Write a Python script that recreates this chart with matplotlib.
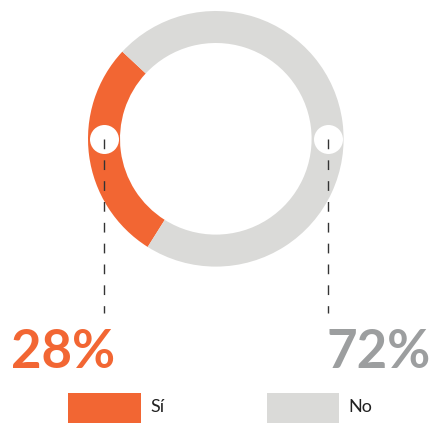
import matplotlib
matplotlib.use("Agg")
import matplotlib.pyplot as plt

# data
labels = ["Sí", "No"]
values = [28, 72]
colors = ["#F26633", "#DADAD8"]
text_colors = ["#F26633", "#9C9E9F"]

W, H = 433, 424
fig = plt.figure(figsize=(W / 100, H / 100), dpi=100)
ax = fig.add_axes([0, 0, 1, 1])

# donut geometry (pixel coords, y measured from bottom)
cx, cy = 215.8, H - 138.8
radius = 127.8
ring = 32

ax.pie(values, colors=colors, startangle=137, counterclock=True,
       center=(cx, cy), radius=radius,
       wedgeprops=dict(width=ring, linewidth=0))

mid_r = radius - ring / 2
marker_x = [cx - mid_r, cx + mid_r]
line_bottom = H - 313

for i, mx in enumerate(marker_x):
    ax.plot([mx, mx], [cy, line_bottom], color="#333333", lw=1,
            linestyle=(0, (7, 8)), zorder=3)
    # white dot, ~29 px across
    ax.scatter([mx], [cy], s=(29 * 0.72) ** 2, color="white", zorder=2, linewidths=0)

# percentage labels
ax.text(11, H - 352, f"{values[0]}%", color=text_colors[0], fontsize=38,
        family="Lato", fontweight="bold", ha="left", va="center")
ax.text(431, H - 352, f"{values[1]}%", color=text_colors[1], fontsize=38,
        family="Lato", fontweight="bold", ha="right", va="center")

# legend
leg_x = [68.3, 266.7]
for i, lx in enumerate(leg_x):
    ax.add_patch(plt.Rectangle((lx, H - 423.3), 72.5, 30.6, color=colors[i], lw=0))
    ax.text(lx + 82, H - 407.5, labels[i], color="#222222", fontsize=13,
            family="Lato", ha="left", va="center")

ax.set_xlim(0, W)
ax.set_ylim(0, H)
ax.set_aspect("equal")
ax.axis("off")

fig.savefig("out.png", dpi=100)
